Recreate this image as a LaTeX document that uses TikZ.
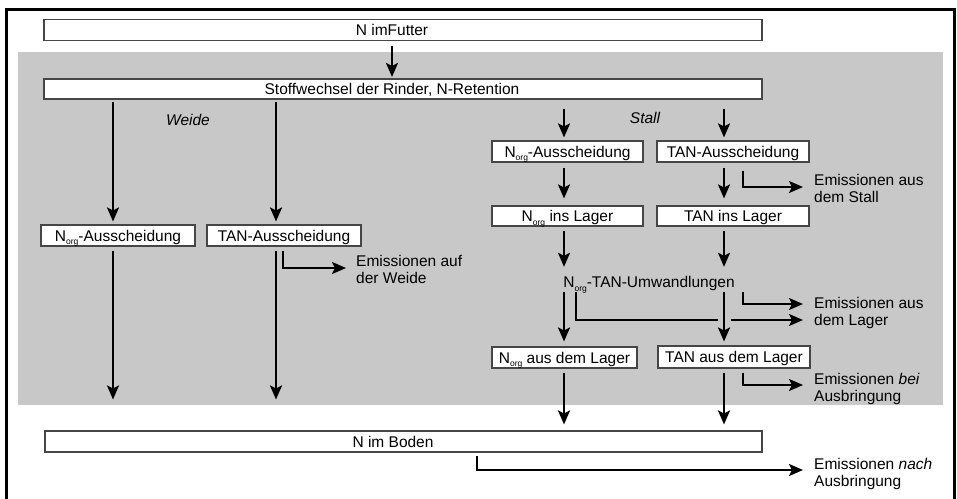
\documentclass[tikz,border=0pt]{standalone}
\usepackage{fontspec}
\setmainfont{Liberation Sans}
\usetikzlibrary{arrows.meta,calc}
\definecolor{bandgray}{RGB}{200,200,200}
\definecolor{boxline}{RGB}{70,70,70}
\newcommand{\Norg}{N\raisebox{-3.5pt}{\fontsize{8.5}{8.5}\selectfont org}}
\begin{document}
\begin{tikzpicture}[x=1pt,y=-1pt,
  txt/.style={font=\fontsize{15.5}{17}\selectfont},
  box/.style={txt, draw=boxline, line width=1.1pt, fill=white, inner sep=0pt,
    minimum height=21pt, text height=11pt, text depth=0pt},
  lbl/.style={txt, inner sep=0pt, text height=11pt, text depth=3pt},
  emis/.style={txt, inner sep=0pt, anchor=west, align=left},
  arr/.style={line width=2.2pt, -{Stealth[length=14pt,width=12pt,inset=3pt]}},
  ln/.style={line width=2.2pt}
]
\useasboundingbox (0,0) rectangle (957,498);
\fill[bandgray] (18,52) rectangle (943,405);
\draw[line width=3pt] (6,505) -- (6,9.5) -- (954.5,9.5) -- (954.5,505);

% column coordinates
\coordinate (cM) at (392,0);
\coordinate (cA) at (113,0);
\coordinate (cB) at (276,0);
\coordinate (cG) at (283,0);
\coordinate (cC) at (564,0);
\coordinate (cD) at (724,0);
\coordinate (cE) at (743,0);
\coordinate (cF) at (576,0);
\coordinate (cH) at (477,0);

% boxes
\node[box, minimum width=718pt] (futter) at (403,30) {N imFutter\hspace*{22pt}};
\node[box, minimum width=718pt, minimum height=20pt] (stoff) at (403,89) {Stoffwechsel der Rinder, N-Retention\hspace*{22pt}};
\node[box, minimum width=154pt] (norgW) at (118,235.5) {\Norg-Ausscheidung};
\node[box, minimum width=154pt] (tanW) at (284,235.5) {TAN-Ausscheidung};
\node[box, minimum width=151pt] (norgA) at (567.5,151.5) {\Norg-Ausscheidung};
\node[box, minimum width=152pt] (tanA) at (733,151.5) {TAN-Ausscheidung};
\node[box, minimum width=151pt, minimum height=20pt] (norgL) at (567.5,216) {\Norg{} ins Lager};
\node[box, minimum width=152pt, minimum height=20pt] (tanL) at (733,216) {TAN ins Lager};
\node[lbl] (umw) at (649,283.5) {\Norg-TAN-Umwandlungen};
\node[box, minimum width=145pt] (norgAL) at (564.5,357.5) {\Norg{} aus dem Lager};
\node[box, minimum width=152pt, minimum height=22pt] (tanAL) at (734,357) {TAN aus dem Lager};
\node[box, minimum width=717pt] (boden) at (403.5,441.5) {N im Boden\hspace*{21pt}};

% labels
\node[lbl, font=\fontsize{15.5}{17}\selectfont\itshape] (weide) at (188,121) {Weide};
\node[lbl, font=\fontsize{15.5}{17}\selectfont\itshape] (stall) at (645,119) {Stall};
\node[emis] (emW) at (356,269) {Emissionen auf\\der Weide};
\node[emis] (emS) at (814,188) {Emissionen aus\\dem Stall};
\node[emis] (emL) at (814,313) {Emissionen aus\\dem Lager};
\node[emis] (emB) at (814,389) {Emissionen \textit{bei}\\Ausbringung};
\node[emis] (emN) at (814,474) {Emissionen \textit{nach}\\Ausbringung};

% main arrow
\draw[arr] ($(cM |- futter.south)+(0,5)$) -- ($(cM |- stoff.north)+(0,-1.5)$);

% Weide
\draw[arr] ($(cA |- stoff.south)+(0,2)$) -- ($(cA |- norgW.north)+(0,-3)$);
\draw[arr] ($(cB |- stoff.south)+(0,2)$) -- ($(cB |- tanW.north)+(0,-3)$);
\draw[arr] ($(cA |- norgW.south)+(0,4)$) -- ($(cA |- boden.north)+(0,-31)$);
\draw[arr] ($(cB |- tanW.south)+(0,4)$) -- ($(cB |- boden.north)+(0,-31)$);
\draw[arr] ($(cG |- tanW.south)+(0,4)$) |- ($(emW.west)+(-10,-1)$);

% Stall
\draw[arr] ($(cC |- stoff.south)+(0,9)$) -- ($(cC |- norgA.north)+(0,-3)$);
\draw[arr] ($(cD |- stoff.south)+(0,9)$) -- ($(cD |- tanA.north)+(0,-3)$);
\draw[arr] ($(cC |- norgA.south)+(0,5)$) -- ($(cC |- norgL.north)+(0,-7)$);
\draw[arr] ($(cD |- tanA.south)+(0,5)$) -- ($(cD |- tanL.north)+(0,-7)$);
\draw[arr] ($(cE |- tanA.south)+(0,8)$) |- ($(emS.west)+(-11,-1)$);

% Lager
\draw[arr] ($(cC |- norgL.south)+(0,4)$) -- ($(cC |- umw.north)+(0,-9.5)$);
\draw[arr] ($(cD |- tanL.south)+(0,4)$) -- ($(cD |- umw.north)+(0,-9.5)$);
\draw[arr] ($(cF |- umw.south)+(0,1.5)$) |- ($(emL.west)+(-11,7)$);
\draw[bandgray, line width=4pt] ($(cD |- emL.west)+(-6.5,7)$) -- ($(cD |- emL.west)+(6.5,7)$);
\draw[arr] ($(cC |- umw.south)+(0,1.5)$) -- ($(cC |- norgAL.north)+(0,-5)$);
\draw[arr] ($(cD |- umw.south)+(0,1.5)$) -- ($(cD |- tanAL.north)+(0,-4)$);
\draw[arr] ($(cE |- umw.south)+(0,1.5)$) |- ($(emL.west)+(-11,-9)$);

% Ausbringung
\draw[arr] ($(cC |- norgAL.south)+(0,4)$) -- ($(cC |- boden.north)+(0,-6)$);
\draw[arr] ($(cD |- tanAL.south)+(0,4)$) -- ($(cD |- boden.north)+(0,-6)$);
\draw[arr] ($(cE |- tanAL.south)+(0,4)$) |- ($(emB.west)+(-11,-4)$);
\draw[arr] ($(cH |- boden.south)+(0,3)$) |- ($(emN.west)+(-11,-4)$);
\end{tikzpicture}
\end{document}
